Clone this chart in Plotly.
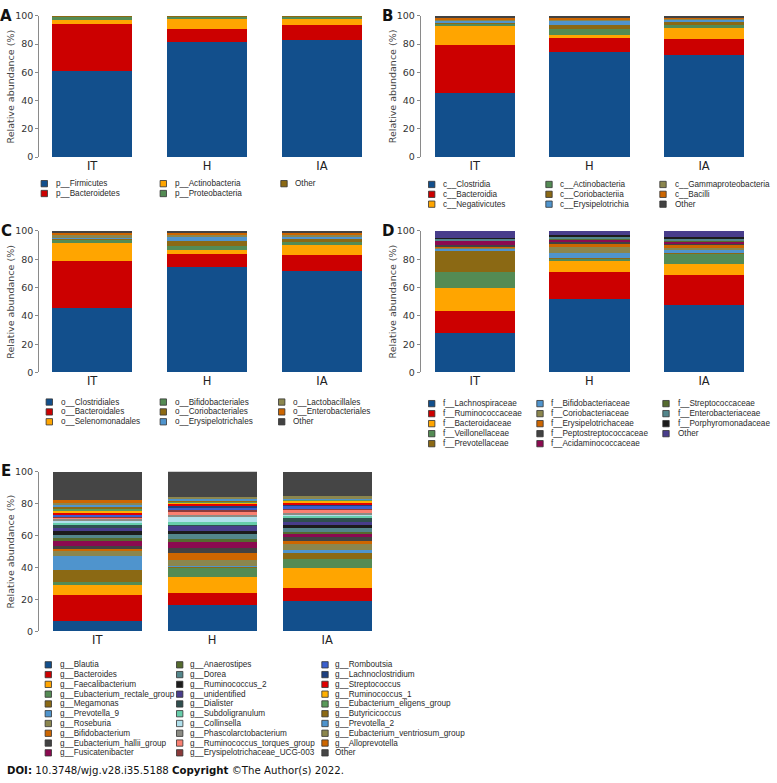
import plotly.graph_objects as go

W, H = 777, 783
groups = ["IT", "H", "IA"]

palette = ["#124F8C", "#CC0000", "#FFA500", "#548B54", "#8B6914", "#4F94CD", "#8B864E",
           "#CD6600", "#424242", "#8B0A50", "#556B2F", "#53868B", "#1C1C1C", "#483D8B",
           "#2F4F4F", "#66CDAA", "#B0E0EC", "#8B8B83", "#FA8072", "#8B3A3A", "#3A5FCD",
           "#1D3F7F", "#E00000", "#FFB000", "#5A9A5A", "#8B6914", "#4F94CD", "#8B864E",
           "#CD6600", "#454545"]

# ---- A: phylum ----
phylum_names = ["p__Firmicutes", "p__Bacteroidetes", "p__Actinobacteria", "p__Proteobacteria", "Other"]
phylum_IT = [61.0, 33.2, 3.0, 2.6, 0.2]
phylum_H = [81.2, 9.5, 7.2, 1.9, 0.2]
phylum_IA = [82.8, 10.9, 4.2, 1.9, 0.2]

# ---- B: class ----
class_names = ["c__Clostridia", "c__Bacteroidia", "c__Negativicutes", "c__Actinobacteria",
               "c__Coriobacteriia", "c__Erysipelotrichia", "c__Gammaproteobacteria", "c__Bacilli", "Other"]
class_IT = [45.6, 33.5, 13.5, 2.3, 0.8, 0.8, 1.0, 1.2, 1.3]
class_H = [74.4, 9.6, 2.7, 4.0, 3.0, 3.0, 0.8, 1.3, 1.2]
class_IA = [72.1, 11.2, 7.9, 2.1, 2.0, 2.1, 0.6, 1.0, 1.0]

# ---- C: order ----
order_names = ["o__Clostridiales", "o__Bacteroidales", "o__Selenomonadales", "o__Bifidobacteriales",
               "o__Coriobacteriales", "o__Erysipelotrichales", "o__Lactobacillales", "o__Enterobacteriales", "Other"]
order_IT = [45.7, 33.1, 12.8, 2.3, 1.0, 0.8, 1.2, 1.5, 1.6]
order_H = [74.2, 9.3, 2.8, 3.4, 3.5, 3.1, 0.7, 1.5, 1.5]
order_IA = [71.9, 11.1, 7.4, 1.9, 2.3, 1.7, 0.7, 1.8, 1.2]

# ---- D: family ----
family_names = ["f__Lachnospiraceae", "f__Ruminococcaceae", "f__Bacteroidaceae", "f__Veillonellaceae",
                "f__Prevotellaceae", "f__Bifidobacteriaceae", "f__Coriobacteriaceae", "f__Erysipelotrichaceae",
                "f__Peptostreptococcaceae", "f__Acidaminococcaceae", "f__Streptococcaceae",
                "f__Enterobacteriaceae", "f__Porphyromonadaceae", "Other"]
family_IT = [28.1, 15.7, 16.2, 11.2, 14.6, 1.8, 0.8, 0.8, 1.0, 2.8, 0.6, 1.0, 0.8, 4.6]
family_H = [51.7, 19.5, 7.9, 1.4, 0.5, 3.8, 3.8, 2.3, 1.6, 1.6, 0.8, 1.2, 1.4, 2.5]
family_IA = [48.0, 20.9, 8.1, 7.0, 0.8, 1.8, 1.6, 2.0, 1.2, 1.2, 0.6, 1.0, 1.8, 4.0]

# ---- E: genus ----
genus_names = ["g__Blautia", "g__Bacteroides", "g__Faecalibacterium", "g__Eubacterium_rectale_group",
               "g__Megamonas", "g__Prevotella_9", "g__Roseburia", "g__Bifidobacterium",
               "g__Eubacterium_hallii_group", "g__Fusicatenibacter", "g__Anaerostipes", "g__Dorea",
               "g__Ruminococcus_2", "g__unidentified", "g__Dialister", "g__Subdoligranulum",
               "g__Collinsella", "g__Phascolarctobacterium", "g__Ruminococcus_torques_group",
               "g__Erysipelotrichaceae_UCG-003", "g__Romboutsia", "g__Lachnoclostridium",
               "g__Streptococcus", "g__Ruminococcus_1", "g__Eubacterium_eligens_group",
               "g__Butyricicoccus", "g__Prevotella_2", "g__Eubacterium_ventriosum_group",
               "g__Alloprevotella", "Other"]
genus_IT = [6.5, 16.2, 6.4, 1.8, 7.6, 8.8, 3.0, 1.9, 1.2, 2.9, 2.0, 1.8, 2.5, 2.9, 0.8,
            1.9, 0.6, 2.2, 0.6, 0.5, 1.0, 0.6, 1.0, 0.6, 2.0, 0.5, 2.0, 0.6, 2.0, 17.6]
genus_H = [16.4, 7.7, 9.9, 6.5, 0.1, 0.1, 4.1, 4.1, 3.5, 3.3, 2.4, 3.7, 0.8, 3.7, 1.0,
           1.0, 3.7, 0.8, 1.7, 1.6, 1.4, 1.5, 1.2, 0.4, 1.0, 0.6, 0.4, 1.5, 0.0, 16.1]
genus_IA = [19.0, 8.2, 12.7, 5.7, 4.1, 1.2, 3.7, 2.1, 2.6, 1.9, 1.2, 2.3, 1.8, 2.0, 2.7,
            1.0, 1.5, 0.6, 2.0, 0.6, 1.9, 1.0, 0.6, 1.6, 0.5, 0.3, 0.3, 1.4, 0.0, 15.5]

TICK_FONT = dict(family="DejaVu Sans", size=9.5, color="#333333")
CAT_FONT = dict(family="DejaVu Sans", size=11.5, color="#222222")
LEG_FONT = dict(family="Liberation Sans, Arial", size=8.2, color="#2a2a2a")


def px(x):
    return x / W


def py(y):
    return 1 - y / H


panels = [
    dict(letter="A", names=phylum_names, vals=[phylum_IT, phylum_H, phylum_IA],
         xd=(39.3, 379.35), xr=(-0.46, 2.5), yd=(153.3, 10.0), bw=0.696,
         letter_pos=(6, 10), title_x=11,
         leg=dict(mx=[44.3, 163.3, 284], tx=[55.5, 175, 295], y0=180.2, dy=10.0)),
    dict(letter="B", names=class_names, vals=[class_IT, class_H, class_IA],
         xd=(420.7, 761.4), xr=(-0.472, 2.5), yd=(153.3, 10.0), bw=0.70,
         letter_pos=(387, 10), title_x=392.7,
         leg=dict(mx=[431.7, 549, 663], tx=[443.3, 560, 675], y0=181, dy=10.0)),
    dict(letter="C", names=order_names, vals=[order_IT, order_H, order_IA],
         xd=(39.3, 379.35), xr=(-0.46, 2.5), yd=(371.7, 228.2), bw=0.696,
         letter_pos=(6, 228), title_x=11,
         leg=dict(mx=[49.3, 163.3, 281.7], tx=[61, 175, 293.3], y0=401.7, dy=10.0)),
    dict(letter="D", names=family_names, vals=[family_IT, family_H, family_IA],
         xd=(420.7, 761.4), xr=(-0.472, 2.5), yd=(371.7, 228.2), bw=0.70,
         letter_pos=(388, 228), title_x=392.7,
         leg=dict(mx=[431.7, 540, 666], tx=[442.7, 551, 678.3], y0=403.3, dy=10.15)),
    dict(letter="E", names=genus_names, vals=[genus_IT, genus_H, genus_IA],
         xd=(39.0, 384.7), xr=(-0.506, 2.5), yd=(634.3, 472.3), bw=0.774,
         letter_pos=(6, 472), title_x=11,
         leg=dict(mx=[48.3, 179.7, 325], tx=[60, 190, 334.7], y0=668.2, dy=9.92)),
]

fig = go.Figure()
annotations = []
shapes = []
layout = {}

for k, p in enumerate(panels, start=1):
    xname = "x" if k == 1 else f"x{k}"
    yname = "y" if k == 1 else f"y{k}"
    xkey = "xaxis" if k == 1 else f"xaxis{k}"
    ykey = "yaxis" if k == 1 else f"yaxis{k}"
    n = len(p["names"])
    for i, name in enumerate(p["names"]):
        fig.add_trace(go.Bar(
            x=groups, y=[p["vals"][g][i] for g in range(3)], name=name,
            marker=dict(color=palette[i], line=dict(width=0)),
            width=p["bw"], xaxis=xname, yaxis=yname, showlegend=False))
    layout[xkey] = dict(domain=[px(p["xd"][0]), px(p["xd"][1])], range=list(p["xr"]),
                        anchor=yname, showline=False, showgrid=False, zeroline=False,
                        ticks="", tickfont=CAT_FONT, fixedrange=True)
    layout[ykey] = dict(domain=[py(p["yd"][0]), py(p["yd"][1])], range=[0, 100],
                        anchor=xname, showline=True, linecolor="#8a8a8a", linewidth=1,
                        ticks="outside", ticklen=3, tickcolor="#8a8a8a", tickwidth=1,
                        tickvals=[0, 20, 40, 60, 80, 100], showgrid=False, zeroline=False,
                        tickfont=TICK_FONT, fixedrange=True)
    # panel letter
    annotations.append(dict(text=f"<b>{p['letter']}</b>", x=px(p["letter_pos"][0]), y=py(p["letter_pos"][1]),
                            xref="paper", yref="paper", xanchor="center", yanchor="middle",
                            showarrow=False, font=dict(family="DejaVu Sans", size=15, color="#111111")))
    # y title
    annotations.append(dict(text="Relative abundance (%)", x=px(p["title_x"]),
                            y=(py(p["yd"][0]) + py(p["yd"][1])) / 2,
                            xref="paper", yref="paper", xanchor="center", yanchor="middle",
                            textangle=-90, showarrow=False,
                            font=dict(family="DejaVu Sans", size=9.5, color="#444444")))
    # legend (column-major grid, 3 columns)
    lg = p["leg"]
    nrows = -(-n // 3)
    half = 3.2
    for i, name in enumerate(p["names"]):
        col, row = i // nrows, i % nrows
        cy = lg["y0"] + row * lg["dy"]
        cx = lg["mx"][col]
        shapes.append(dict(type="rect", xref="paper", yref="paper",
                           x0=px(cx - half), x1=px(cx + half), y0=py(cy + half), y1=py(cy - half),
                           fillcolor=palette[i], line=dict(color="#333333", width=0.8)))
        annotations.append(dict(text=name, x=px(lg["tx"][col]), y=py(cy), xref="paper", yref="paper",
                                xanchor="left", yanchor="middle", showarrow=False,
                                borderpad=0, borderwidth=0, font=LEG_FONT))

annotations.append(dict(text="<b>DOI:</b> 10.3748/wjg.v28.i35.5188 <b>Copyright</b> ©The Author(s) 2022.",
                        x=px(7), y=py(775), xref="paper", yref="paper", xanchor="left", yanchor="middle",
                        showarrow=False, borderpad=0, borderwidth=0,
                        font=dict(family="DejaVu Sans", size=10.2, color="#111111")))

fig.update_layout(**layout)
fig.update_layout(width=W, height=H, margin=dict(l=0, r=0, t=0, b=0, pad=0),
                  paper_bgcolor="white", plot_bgcolor="white", barmode="stack",
                  showlegend=False, annotations=annotations, shapes=shapes)

fig.write_html("out.html", config={"displayModeBar": False},
               post_script="document.body.style.margin='0';document.body.style.overflow='hidden';")
